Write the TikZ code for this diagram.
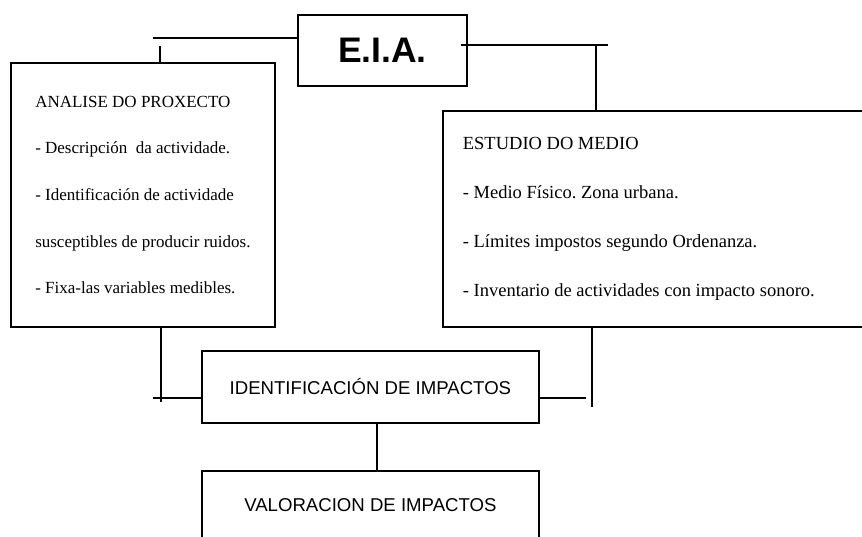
\documentclass[tikz,border=0pt]{standalone}
\usepackage{fontspec}
\setmainfont{Liberation Serif}
\newfontfamily\arialfont{Liberation Sans}
\begin{document}
\begin{tikzpicture}[x=1pt,y=-1pt, line width=1.8pt,
  boxstyle/.style={draw, line width=1.8pt, inner sep=0pt, anchor=north west},
  listbox/.style={boxstyle, align=flush left},
  sansbox/.style={boxstyle, font=\arialfont\fontsize{18.6}{22}\selectfont}]
\useasboundingbox (0,0) rectangle (862,536);
\clip (0,0) rectangle (862,536);
% boxes
\node[boxstyle, minimum width=169pt, minimum height=71pt,
      font=\arialfont\bfseries\fontsize{35.5}{40}\selectfont] (eia) at (297,14) {E.I.A.};
\node[listbox, minimum width=264pt, minimum height=264pt,
      font=\frenchspacing\fontsize{17}{46.6}\selectfont] (ana) at (10,62)
  {ANALISE DO PROXECTO\\- Descripción\ \ da actividade.\\- Identificación de actividade\\susceptibles de producir ruidos.\\- Fixa-las variables medibles.};
\node[listbox, minimum width=440pt, minimum height=216pt, inner xsep=20pt, text width=400pt,
      font=\frenchspacing\fontsize{18.5}{49}\selectfont] (est) at (442,110)
  {ESTUDIO DO MEDIO\\- Medio Físico. Zona urbana.\\- Límites impostos segundo Ordenanza.\\- Inventario de actividades con impacto sonoro.};
\node[sansbox, minimum width=337pt, minimum height=72pt] (ide) at (201,350) {IDENTIFICACIÓN DE IMPACTOS};
\node[sansbox, minimum width=337pt, minimum height=69pt] (val) at (201,470) {VALORACION DE IMPACTOS};
% free ends
\coordinate (l1) at (153,38);
\coordinate (t1) at (160,46);
\coordinate (r1) at (461,45);
\coordinate (r2) at (608,45);
\coordinate (rv) at (596,45);
\coordinate (lb) at (161,402);
\coordinate (lh) at (153,398);
\coordinate (rh) at (586,398);
\coordinate (rb) at (592,407);
\coordinate (mid) at (377,0);
% connectors
\draw (l1) -- (l1 -| eia.west);
\draw (t1) -- (t1 |- ana.north);
\draw (r1) -- (r2);
\draw (rv) -- (rv |- est.north);
\draw (lb |- ana.south) -- (lb);
\draw (lh) -- (lh -| ide.west);
\draw (rh -| ide.east) -- (rh);
\draw (rb |- est.south) -- (rb);
\draw (mid |- ide.south) -- (mid |- val.north);
\end{tikzpicture}
\end{document}
